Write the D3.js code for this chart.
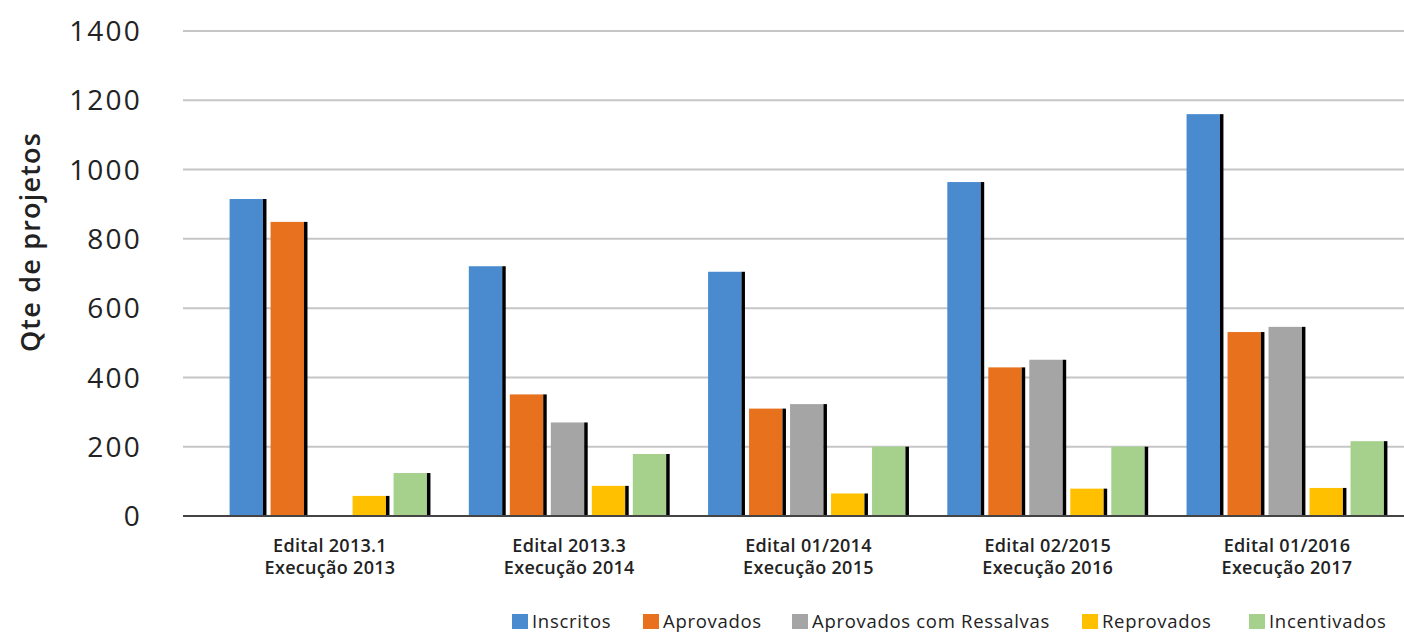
<!DOCTYPE html>
<html><head><meta charset="utf-8">
<script src="https://cdn.jsdelivr.net/npm/d3@7/dist/d3.min.js"></script>
<style>body{margin:0;background:#fff;} svg{display:block;}</style>
</head><body>
<svg id="chart" width="1404" height="635"></svg>
<script>
const categories = [
  ["Edital 2013.1","Execução 2013"],
  ["Edital 2013.3","Execução 2014"],
  ["Edital 01/2014","Execução 2015"],
  ["Edital 02/2015","Execução 2016"],
  ["Edital 01/2016","Execução 2017"]
];
const seriesNames = ["Inscritos","Aprovados","Aprovados com Ressalvas","Reprovados","Incentivados"];
const inscritos   = [915, 721, 705, 964, 1160];
const aprovados   = [849, 351, 310, 429, 531];
const ressalvas   = [0, 270, 323, 451, 546];
const reprovados  = [58, 87, 65, 79, 81];
const incentivados= [124, 179, 200, 200, 216];
const yTicks = [0,200,400,600,800,1000,1200,1400];
const colors = ["#4a8bd0","#e8711e","#a5a5a5","#ffc000","#a6d18c"];

const values = [inscritos, aprovados, ressalvas, reprovados, incentivados];
const svg = d3.select("#chart");
const font = "'Open Sans', 'DejaVu Sans', sans-serif";

const y = d3.scaleLinear().domain([0,1400]).range([516, 31]);
const catKeys = categories.map((c,i)=>i);
const x0 = d3.scaleBand().domain(catKeys).range([210.4, 1406.6]).padding(0);
const x1 = d3.scaleBand().domain(seriesNames).range([0, x0.bandwidth()]).paddingInner(0.1).paddingOuter(0.468);

// gridlines
svg.append("g").selectAll("line").data(yTicks.filter(t=>t>0)).join("line")
  .attr("x1",183).attr("x2",1404)
  .attr("y1",d=>y(d)).attr("y2",d=>y(d))
  .attr("stroke","#c6c6c6").attr("stroke-width",2);

// y tick labels
svg.append("g").selectAll("text").data(yTicks).join("text")
  .attr("x",142).attr("y",d=>y(d)).attr("dy","0.36em")
  .attr("text-anchor","end")
  .attr("font-family",font).attr("font-size",28).attr("letter-spacing",2.2)
  .attr("fill","#222").text(d=>d);

// y axis title
svg.append("text")
  .attr("transform","translate(40,242) rotate(-90)")
  .attr("text-anchor","middle")
  .attr("font-family",font).attr("font-size",27).attr("font-weight",600).attr("letter-spacing",1.2)
  .attr("fill","#222").text("Qte de projetos");

// bars
const groups = svg.append("g").selectAll("g").data(catKeys).join("g")
  .attr("transform",d=>`translate(${x0(d)},0)`);
const shadow = 3.5;
groups.each(function(ci){
  const g = d3.select(this);
  seriesNames.forEach((s,si)=>{
    const v = values[si][ci];
    if (v<=0) return;
    const bx = x1(s), bw = x1.bandwidth();
    g.append("rect").attr("x",bx).attr("y",y(v)).attr("width",bw-shadow).attr("height",y(0)-y(v))
      .attr("fill",colors[si]);
    g.append("rect").attr("x",bx+bw-shadow).attr("y",y(v)).attr("width",shadow).attr("height",y(0)-y(v))
      .attr("fill","#000");
  });
});

// baseline
svg.append("line").attr("x1",183).attr("x2",1404).attr("y1",y(0)).attr("y2",y(0))
  .attr("stroke","#444").attr("stroke-width",2);

// x labels
const xl = svg.append("g").selectAll("text").data(catKeys).join("text")
  .attr("text-anchor","middle")
  .attr("font-family",font).attr("font-size",18).attr("font-weight",600).attr("letter-spacing",0.3)
  .attr("fill","#222");
xl.each(function(ci){
  const t = d3.select(this);
  const cx = x0(ci)+x0.bandwidth()/2;
  categories[ci].forEach((line,li)=>{
    t.append("tspan").attr("x",cx).attr("y",552+li*22).text(line);
  });
});

// legend
const legendX = [512, 643, 792, 1082, 1249];
const lg = svg.append("g").selectAll("g").data(seriesNames).join("g")
  .attr("transform",(d,i)=>`translate(${legendX[i]},614)`);
lg.append("rect").attr("width",16).attr("height",15).attr("fill",(d,i)=>colors[i]);
lg.append("text").attr("x",20).attr("y",7.5).attr("dy","0.36em")
  .attr("font-family",font).attr("font-size",18.5).attr("letter-spacing",0.7).attr("fill","#222").text(d=>d);
</script>
</body></html>
